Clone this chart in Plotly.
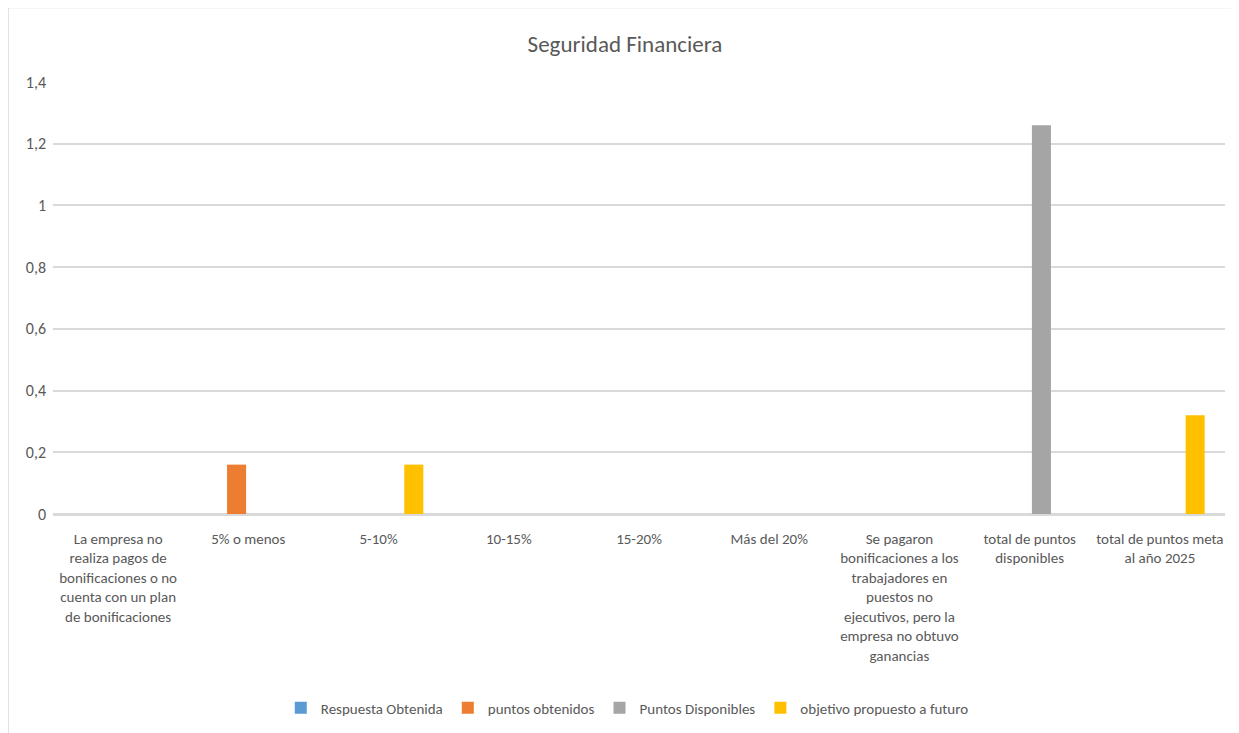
import plotly.graph_objects as go

# categories and series
categorias = [
    "La empresa no<br>realiza pagos de<br>bonificaciones o no<br>cuenta con un plan<br>de bonificaciones",
    "5% o menos",
    "5-10%",
    "10-15%",
    "15-20%",
    "Más del 20%",
    "Se pagaron<br>bonificaciones a los<br>trabajadores en<br>puestos no<br>ejecutivos, pero la<br>empresa no obtuvo<br>ganancias",
    "total de puntos<br>disponibles",
    "total de puntos meta<br>al año 2025",
]
respuesta_obtenida = [0, 0, 0, 0, 0, 0, 0, 0, 0]
puntos_obtenidos = [0, 0.16, 0, 0, 0, 0, 0, 0, 0]
puntos_disponibles = [0, 0, 0, 0, 0, 0, 0, 1.26, 0]
objetivo_futuro = [0, 0, 0.16, 0, 0, 0, 0, 0, 0.32]

series = [
    ("Respuesta Obtenida", respuesta_obtenida, "#5B9BD5"),
    ("puntos obtenidos", puntos_obtenidos, "#ED7D31"),
    ("Puntos Disponibles", puntos_disponibles, "#A5A5A5"),
    ("objetivo propuesto a futuro", objetivo_futuro, "#FFC000"),
]

FONT = "Carlito, Liberation Sans Narrow, Open Sans, sans-serif"
GRIS = "#595959"

fig = go.Figure()
for nombre, valores, color in series:
    fig.add_trace(go.Bar(name=nombre, x=categorias, y=valores,
                         marker=dict(color=color, line=dict(width=0))))

fig.update_layout(
    width=1239, height=733,
    paper_bgcolor="white", plot_bgcolor="white",
    margin=dict(l=45, r=22, t=74, b=227),
    separators=",.",
    barmode="group", bargap=0.278, bargroupgap=0.19,
    font=dict(family=FONT, color=GRIS, size=15),
    title=dict(text="Seguridad Financiera", x=0.488, xref="paper", xanchor="center",
               y=0.951, yref="container", yanchor="middle",
               font=dict(size=23, color=GRIS, family=FONT)),
    legend=dict(orientation="h", x=0.49, xanchor="center", y=-0.449, yanchor="middle",
                font=dict(size=15, color=GRIS), itemwidth=30),
    shapes=[dict(type="rect", xref="paper", yref="paper",
                 x0=-0.0384, x1=1.011, y0=-0.53, y1=1.1727,
                 line=dict(color="#D9D9D9", width=1.5), layer="below")],
)
fig.update_xaxes(showgrid=False, showline=True, linecolor="#D9D9D9", linewidth=1.5,
                 ticks="", tickangle=0, ticklabelstandoff=10,
                 tickfont=dict(size=15, color=GRIS))
fig.update_yaxes(range=[0, 1.4], dtick=0.2, showgrid=True, gridcolor="#D9D9D9",
                 gridwidth=1.5, zeroline=True, zerolinecolor="#D9D9D9", zerolinewidth=1.5,
                 showline=False, ticks="", ticklabelstandoff=6,
                 tickfont=dict(size=16, color=GRIS))

fig.write_html("out.html")
